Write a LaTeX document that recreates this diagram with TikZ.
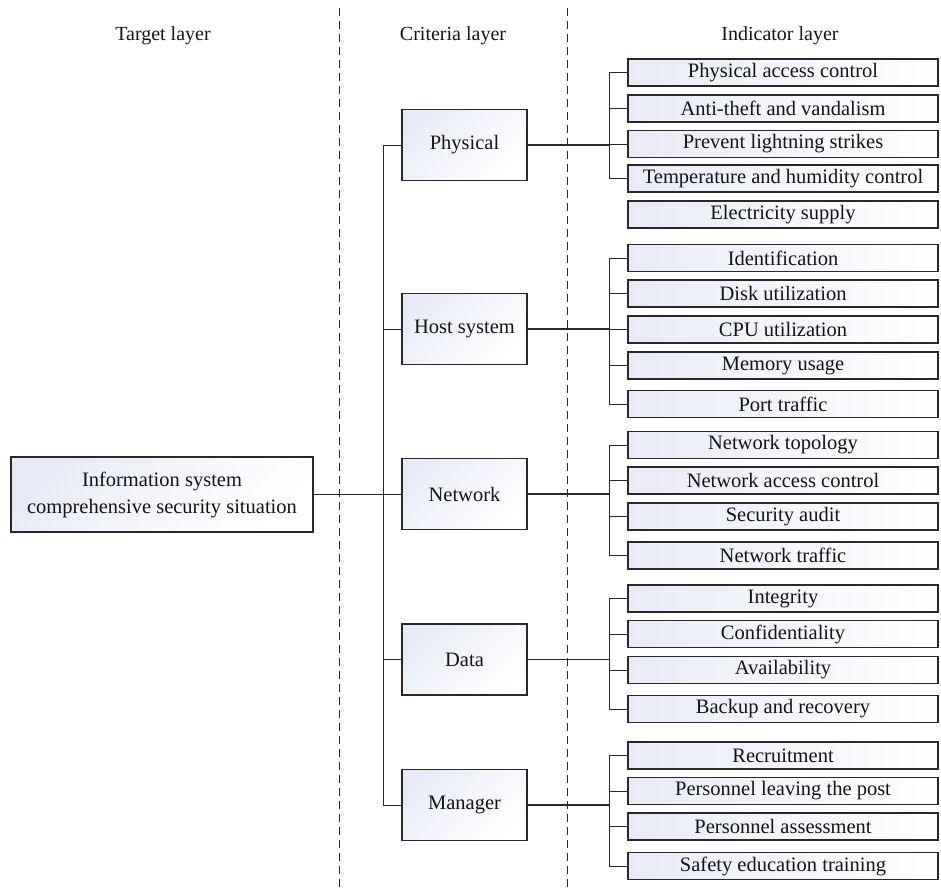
\documentclass[tikz,border=0pt]{standalone}
\usepackage{fontspec}
\setmainfont{Liberation Serif}
\usetikzlibrary{calc}
\definecolor{lav}{RGB}{232,235,247}
\definecolor{edgec}{RGB}{40,40,40}
\definecolor{txt}{RGB}{20,20,20}
\tikzset{
  boxbase/.style={draw=edgec, line width=1.1pt, inner sep=0pt, text=txt, font=\fontsize{20.5}{27}\selectfont, align=center},
  ind/.style={boxbase, minimum width=310pt, minimum height=27pt, left color=lav, right color=white},
  crit/.style={boxbase, minimum width=125pt, minimum height=71pt, top color=lav, bottom color=white, shading angle=45},
  tgt/.style={boxbase, minimum width=302pt, minimum height=75pt, top color=lav, bottom color=white, shading angle=45},
  layerlab/.style={text=txt, font=\fontsize{20}{24}\selectfont},
  sep/.style={draw=edgec, line width=1pt, dash pattern=on 8pt off 5pt},
  mainline/.style={draw=edgec, line width=1.7pt},
  stub/.style={draw=edgec, line width=1pt},
}
\begin{document}
\begin{tikzpicture}[x=1pt,y=-1pt]
\useasboundingbox (0,0) rectangle (941,889);

% layer labels
\node[layerlab] (lt) at (163,36) {Target layer};
\node[layerlab] (lc) at (453,36) {Criteria layer};
\node[layerlab] (li) at (780,36) {Indicator layer};

% separators
\coordinate (s1t) at (339,8); \coordinate (s1b) at (339,887);
\coordinate (s2t) at (567,8); \coordinate (s2b) at (567,887);
\draw[sep] (s1t) -- (s1b);
\draw[sep] (s2t) -- (s2b);

% target
\node[tgt] (target) at (162,494.5) {Information system\\comprehensive security situation};

% criteria
\node[crit] (phys) at (464.5,145) {Physical};
\node[crit] (host) at (464.5,329) {Host system};
\node[crit] (net)  at (464.5,494) {Network};
\node[crit] (data) at (464.5,659.5) {Data};
\node[crit] (man)  at (464.5,805) {Manager};

% indicators
\node[ind] (p1) at (783,72.5) {Physical access control};
\node[ind] (p2) at (783,108.5) {Anti-theft and vandalism};
\node[ind] (p3) at (783,144) {Prevent lightning strikes};
\node[ind] (p4) at (783,178.5) {Temperature and humidity control};
\node[ind] (p5) at (783,214.5) {Electricity supply};

\node[ind] (h1) at (783,258) {Identification};
\node[ind] (h2) at (783,293.5) {Disk utilization};
\node[ind] (h3) at (783,329.5) {CPU utilization};
\node[ind] (h4) at (783,365.5) {Memory usage};
\node[ind] (h5) at (783,404) {Port traffic};

\node[ind] (n1) at (783,445) {Network topology};
\node[ind] (n2) at (783,480.5) {Network access control};
\node[ind] (n3) at (783,516.5) {Security audit};
\node[ind] (n4) at (783,555.5) {Network traffic};

\node[ind] (d1) at (783,598.5) {Integrity};
\node[ind] (d2) at (783,634) {Confidentiality};
\node[ind] (d3) at (783,670) {Availability};
\node[ind] (d4) at (783,709) {Backup and recovery};

\node[ind] (m1) at (783,755.5) {Recruitment};
\node[ind] (m2) at (783,791) {Personnel leaving the post};
\node[ind] (m3) at (783,826.5) {Personnel assessment};
\node[ind] (m4) at (783,866) {Safety education training};

% trunk
\coordinate (tx) at (383,0);
\coordinate (bx) at (609,0);
\draw[mainline] (target.east) -- (target.east -| tx);
\draw[stub] (phys.west -| tx) -- (man.west -| tx);
\foreach \c in {phys,host,net,data,man}{
  \draw[stub] (\c.west) -- (\c.west -| tx);
}

% branches
\draw[mainline] (phys.east) -- (phys.east -| bx);
\draw[stub] (p1.west) -- (p1.west -| bx) -- (p4.west -| bx) -- (p4.west);
\draw[stub] (p2.west) -- (p2.west -| bx);
\draw[stub] (p3.west) -- (p3.west -| bx);

\draw[mainline] (host.east) -- (host.east -| bx);
\draw[stub] (h1.west) -- (h1.west -| bx) -- (h5.west -| bx) -- (h5.west);
\foreach \i in {h2,h3,h4}{\draw[stub] (\i.west) -- (\i.west -| bx);}

\draw[mainline] (net.east) -- (net.east -| bx);
\draw[stub] (n1.west) -- (n1.west -| bx) -- (n4.west -| bx) -- (n4.west);
\foreach \i in {n2,n3}{\draw[stub] (\i.west) -- (\i.west -| bx);}

\draw[mainline] (data.east) -- (data.east -| bx);
\draw[stub] (d1.west) -- (d1.west -| bx) -- (d4.west -| bx) -- (d4.west);
\foreach \i in {d2,d3}{\draw[stub] (\i.west) -- (\i.west -| bx);}

\draw[mainline] (man.east) -- (man.east -| bx);
\draw[stub] (m1.west) -- (m1.west -| bx) -- (m4.west -| bx) -- (m4.west);
\foreach \i in {m2,m3}{\draw[stub] (\i.west) -- (\i.west -| bx);}
\end{tikzpicture}
\end{document}
